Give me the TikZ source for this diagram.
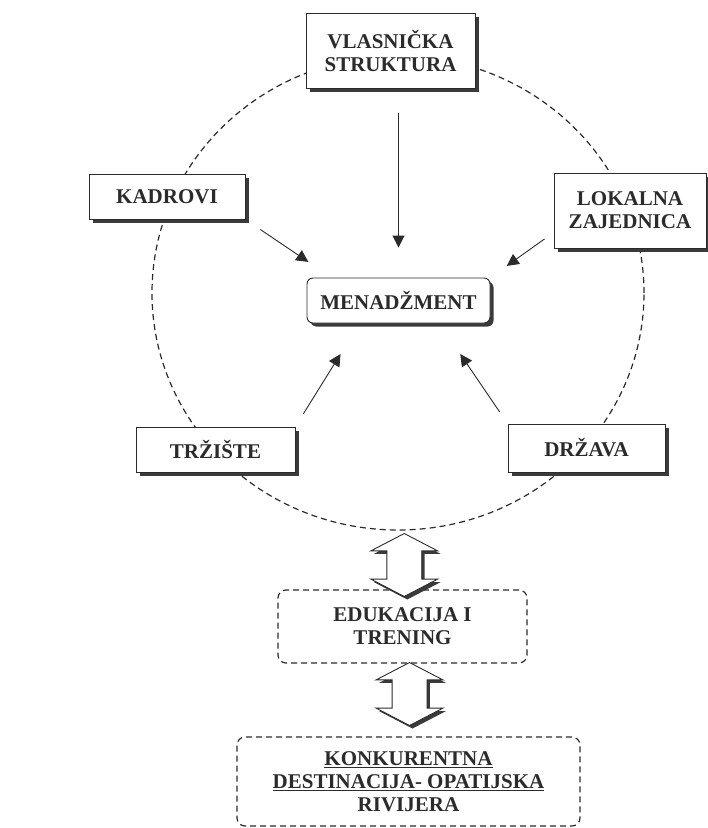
\documentclass[tikz,border=0pt]{standalone}
\usepackage{fontspec}
\setmainfont{Liberation Serif}
\usetikzlibrary{arrows.meta,shapes.geometric,shapes.arrows,shadows,calc}

\definecolor{Ink}{HTML}{2b2b2b}
\definecolor{Shade}{HTML}{3a3a3a}
\tikzstyle{label-font}=[font=\bfseries\fontsize{21}{23}\selectfont, text=Ink, align=center]
\tikzstyle{frame-box}=[label-font, draw=Ink, line width=0.9pt, fill=white, inner sep=0pt, drop shadow={shadow xshift=3.5pt, shadow yshift=-3.5pt, fill=Shade, opacity=1}]
\tikzstyle{dash-box}=[label-font, draw=Ink, line width=1.2pt, dash pattern=on 6pt off 4pt, rounded corners=8pt, inner sep=0pt]
\tikzstyle{thin-arrow}=[draw=Ink, line width=0.9pt, -{Triangle[length=12pt,width=12pt]}]
\tikzstyle{block-arrow}=[double arrow, rotate=90, draw=Ink, fill=white, line width=0.9pt, minimum height=63pt, minimum width=0pt, inner xsep=0pt, inner ysep=17pt, double arrow head extend=16pt, double arrow tip angle=125, drop shadow={shadow xshift=3pt, shadow yshift=-3pt, fill=Shade, opacity=1}]

\begin{document}
\begin{tikzpicture}[x=1pt, y=-1pt]
      \useasboundingbox (0,0) rectangle (708,828);
      \node (ring) at (398,293) [ellipse, draw=Ink, line width=1.2pt, dash pattern=on 6pt off 4pt, minimum width=492pt, minimum height=474pt, inner sep=0pt] {};

      \node (vlasnicka) at (390.5,50.5) [frame-box, minimum width=169pt, minimum height=75pt] {VLASNIČKA\\STRUKTURA};
      \node (kadrovi) at (167,196.5) [frame-box, minimum width=156pt, minimum height=45pt] {KADROVI};
      \node (lokalna) at (630,210.5) [frame-box, minimum width=152pt, minimum height=75pt] {LOKALNA\\ZAJEDNICA};
      \node (menadzment) at (398.5,300.5) [frame-box, rounded corners=6pt, minimum width=183pt, minimum height=45pt] {MENADŽMENT};
      \node (trziste) at (215.5,449.5) [frame-box, minimum width=159pt, minimum height=45pt] {TRŽIŠTE};
      \node (drzava) at (586.5,448) [frame-box, minimum width=157pt, minimum height=48pt] {DRŽAVA};

      \node (edukacija) at (402.5,626.5) [dash-box, minimum width=249pt, minimum height=73pt] {EDUKACIJA I\\TRENING};
      \node (destinacija) at (408.5,781.5) [dash-box, minimum width=343pt, minimum height=89pt] {\underline{KONKURENTNA}\\\underline{DESTINACIJA- OPATIJSKA}\\RIVIJERA};

      \draw [thin-arrow, shorten <=25pt, shorten >=30pt] (vlasnicka.south -| menadzment.north) -- (menadzment.north);
      \draw [thin-arrow, shorten <=18pt, shorten >=28pt] (kadrovi.south east) -- ([xshift=25pt]menadzment.north west);
      \draw [thin-arrow, shorten <=11pt, shorten >=20pt] ([yshift=-22pt]lokalna.west) -- (menadzment.north east);
      \draw [thin-arrow, shorten <=15pt, shorten >=36pt] (trziste.north east) -- ([xshift=53pt]menadzment.south west);
      \draw [thin-arrow, shorten <=14pt, shorten >=37pt] (drzava.north west) -- ([xshift=-51pt]menadzment.south east);

      \node (link-up) at ($(ring.south)!0.5!(edukacija.north)+(4,5)$) [block-arrow] {};
      \node (link-down) at ($(edukacija.south)!0.5!(destinacija.north)+(4,-6)$) [block-arrow] {};
    \end{tikzpicture}
\end{document}
